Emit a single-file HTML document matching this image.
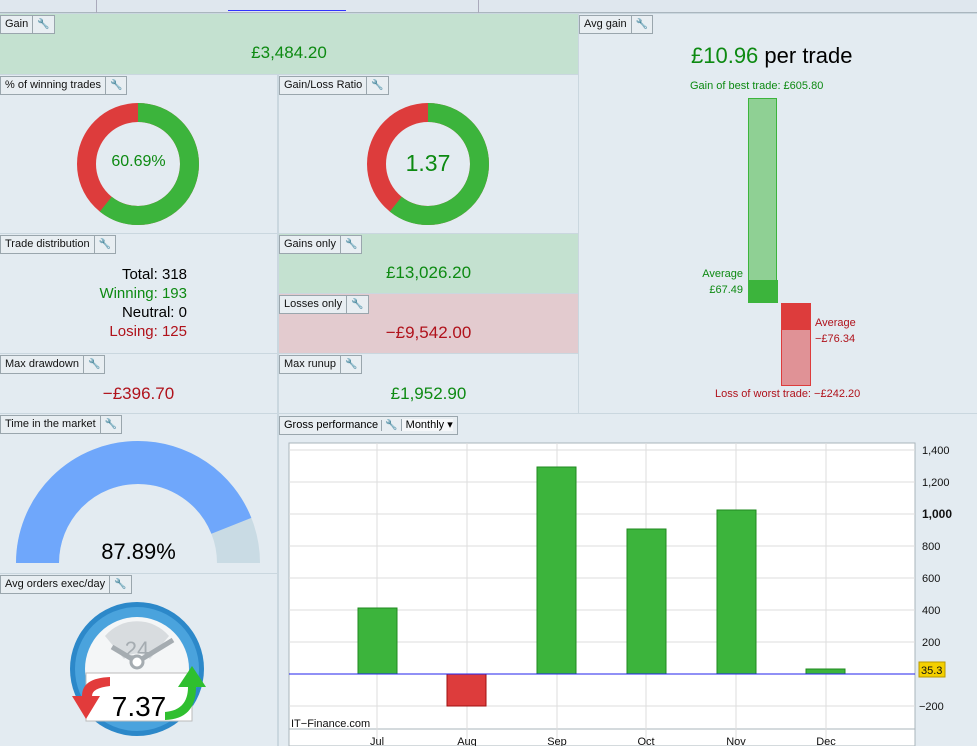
<!DOCTYPE html>
<html><head><meta charset="utf-8"><style>
body{margin:0;width:977px;height:746px;overflow:hidden;background:#cad7df;font-family:"Liberation Sans","DejaVu Sans",sans-serif;position:relative}
.p{position:absolute;background:#e3ebf1;box-sizing:border-box}
.t{position:absolute;left:0;top:1px;border:1px solid #9aa6ad;background:#e8eef2;font-size:11px;height:17px;line-height:17px;padding:0 4px;white-space:nowrap;color:#111}
.t i{display:inline-block;border-left:1px solid #9aa6ad;margin-left:4px;padding-left:4px;font-style:normal;font-size:10px}
.c{position:absolute;text-align:center;width:100%}
.g{color:#0d8a12}.r{color:#b0121b}
</style></head><body>
<div class="p" style="left:0;top:0;width:977px;height:13px;background:#dfe7ee;border-bottom:1px solid #aab6be"></div>
<div class="p" style="left:96px;top:0;width:1px;height:13px;background:#aab"></div>
<div class="p" style="left:478px;top:0;width:1px;height:13px;background:#aab"></div>
<div class="p" style="left:228px;top:10px;width:118px;height:1px;background:#33f"></div>

<div class="p" style="left:0;top:14px;width:578px;height:60px;background:#c4e1d0"><div class="t">Gain<i>🔧</i></div><div class="c g" style="top:29px;font-size:17px">£3,484.20</div></div>

<div class="p" style="left:0;top:75px;width:277px;height:158px"><div class="t">% of winning trades<i>🔧</i></div>
<svg style="position:absolute;left:0;top:0" width="277" height="158"><circle cx="138" cy="89" r="51.5" fill="none" stroke="#dd3c3c" stroke-width="19"/><circle cx="138" cy="89" r="51.5" fill="none" stroke="#3cb43c" stroke-width="19" stroke-dasharray="196.4 400" transform="rotate(-90 138 89)"/></svg>
<div class="c g" style="top:78px;font-size:16px">60.69%</div></div>

<div class="p" style="left:279px;top:75px;width:299px;height:158px"><div class="t">Gain/Loss Ratio<i>🔧</i></div>
<svg style="position:absolute;left:0;top:0" width="299" height="158"><circle cx="149" cy="89" r="51.5" fill="none" stroke="#dd3c3c" stroke-width="19"/><circle cx="149" cy="89" r="51.5" fill="none" stroke="#3cb43c" stroke-width="19" stroke-dasharray="196.4 400" transform="rotate(-90 149 89)"/></svg>
<div class="c g" style="top:75px;font-size:23px;left:0;width:298px">1.37</div></div>

<div class="p" style="left:0;top:234px;width:277px;height:119px"><div class="t">Trade distribution<i>🔧</i></div>
<div style="position:absolute;left:0;width:187px;top:31px;text-align:right;font-size:15px;line-height:19px">
<div>Total: 318</div><div class="g">Winning: 193</div><div>Neutral: 0</div><div class="r">Losing: 125</div></div></div>

<div class="p" style="left:279px;top:234px;width:299px;height:59px;background:#c4e1d0"><div class="t">Gains only<i>🔧</i></div><div class="c g" style="top:29px;font-size:17px">£13,026.20</div></div>
<div class="p" style="left:279px;top:294px;width:299px;height:59px;background:#e3cbcf"><div class="t">Losses only<i>🔧</i></div><div class="c r" style="top:29px;font-size:17px">−£9,542.00</div></div>

<div class="p" style="left:0;top:354px;width:277px;height:59px"><div class="t">Max drawdown<i>🔧</i></div><div class="c r" style="top:30px;font-size:17px">−£396.70</div></div>
<div class="p" style="left:279px;top:354px;width:299px;height:59px"><div class="t">Max runup<i>🔧</i></div><div class="c g" style="top:30px;font-size:17px">£1,952.90</div></div>

<div class="p" style="left:579px;top:14px;width:398px;height:399px"><div class="t">Avg gain<i>🔧</i></div>
<div style="position:absolute;left:112px;top:29px;font-size:22px"><span class="g">£10.96</span> per trade</div>
<div class="g" style="position:absolute;left:111px;top:66px;font-size:11px">Gain of best trade: £605.80</div>
<div style="position:absolute;left:169px;top:84px;width:29px;height:205px;background:#8fd094;border:1px solid #3cb43c;box-sizing:border-box"></div>
<div style="position:absolute;left:169px;top:266px;width:30px;height:23px;background:#3cb43c"></div>
<div class="g" style="position:absolute;left:100px;top:252px;font-size:11px;line-height:16px;text-align:right;width:64px">Average<br>£67.49</div>
<div style="position:absolute;left:202px;top:289px;width:30px;height:83px;background:#e09296;border:1px solid #dd3c3c;box-sizing:border-box"></div>
<div style="position:absolute;left:202px;top:289px;width:30px;height:27px;background:#dd3c3c"></div>
<div class="r" style="position:absolute;left:236px;top:301px;font-size:11px;line-height:16px">Average<br>−£76.34</div>
<div class="r" style="position:absolute;left:136px;top:374px;font-size:11px">Loss of worst trade: −£242.20</div></div>

<div class="p" style="left:0;top:414px;width:277px;height:159px"><div class="t">Time in the market<i>🔧</i></div>
<svg style="position:absolute;left:0;top:0" width="277" height="159"><path d="M37.5 149 A100.5 100.5 0 0 1 238.5 149" fill="none" stroke="#c9dbe4" stroke-width="43"/><path d="M37.5 149 A100.5 100.5 0 0 1 238.5 149" fill="none" stroke="#6fa7fb" stroke-width="43" stroke-dasharray="277.5 400"/></svg>
<div class="c" style="top:125px;font-size:22px;left:0">87.89%</div></div>

<div class="p" style="left:0;top:574px;width:277px;height:172px"><div class="t">Avg orders exec/day<i>🔧</i></div>
<svg style="position:absolute;left:0;top:0" width="277" height="172"><circle cx="137" cy="95" r="67" fill="#2c88c9"/><circle cx="137" cy="95" r="62" fill="#4aa3dd"/><circle cx="137" cy="95" r="52" fill="#f4f6f7"/>
<path d="M105 62 A42 42 0 0 1 169 62 L150 85 A18 18 0 0 0 124 85Z" fill="#d8dcdf"/>
<text x="137" y="83" font-size="22" fill="#a5acb1" text-anchor="middle" font-family="Liberation Sans">24</text>
<line x1="137" y1="88" x2="112" y2="73" stroke="#a5acb1" stroke-width="5"/><line x1="137" y1="88" x2="173" y2="66" stroke="#a5acb1" stroke-width="5"/><circle cx="137" cy="88" r="6" fill="#fff" stroke="#a5acb1" stroke-width="3"/>
<rect x="86" y="99" width="106" height="48" fill="#fff" stroke="#bbb"/>
<path d="M72 122 L100 122 L86 145Z M82 122 Q82 104 110 103 L110 112 Q92 114 92 122Z" fill="#e23b3b"/>
<path d="M178 113 L206 113 L192 92Z M188 113 L196 113 Q196 145 165 146 L165 138 Q188 136 188 113Z" fill="#2fbf2f"/>
<text x="139" y="142" font-size="28" text-anchor="middle" font-family="Liberation Sans">7.37</text></svg></div>

<div class="p" style="left:279px;top:414px;width:698px;height:332px"><div style="position:absolute;left:0;top:2px;border:1px solid #9aa6ad;background:#e8eef2;font-size:11px;height:17px;line-height:17px;padding:0 4px;white-space:nowrap">Gross performance <span style="border-left:1px solid #9aa6ad;padding:0 3px;font-size:10px">🔧</span><span style="border-left:1px solid #9aa6ad;padding-left:4px;background:#f5f7f9">Monthly ▾</span></div></div>

<svg style="position:absolute;left:0;top:0" width="977" height="746" font-family="Liberation Sans" font-size="11">
<rect x="289" y="443" width="626" height="303" fill="#fff" stroke="#aab4bb"/>
<g stroke="#ddd">
<line x1="289" y1="450" x2="915" y2="450"/><line x1="289" y1="482" x2="915" y2="482"/><line x1="289" y1="514" x2="915" y2="514"/><line x1="289" y1="546" x2="915" y2="546"/><line x1="289" y1="578" x2="915" y2="578"/><line x1="289" y1="610" x2="915" y2="610"/><line x1="289" y1="642" x2="915" y2="642"/><line x1="289" y1="706" x2="915" y2="706"/><line x1="289" y1="729" x2="915" y2="729" stroke="#aab4bb"/>
<line x1="377" y1="443" x2="377" y2="746"/><line x1="467" y1="443" x2="467" y2="746"/><line x1="557" y1="443" x2="557" y2="746"/><line x1="646" y1="443" x2="646" y2="746"/><line x1="736" y1="443" x2="736" y2="746"/><line x1="826" y1="443" x2="826" y2="746"/></g>
<g fill="#3cb43c" stroke="#1f8a1f"><rect x="358" y="608" width="39" height="66"/><rect x="537" y="467" width="39" height="207"/><rect x="627" y="529" width="39" height="145"/><rect x="717" y="510" width="39" height="164"/><rect x="806" y="669" width="39" height="5"/></g>
<rect x="447" y="674" width="39" height="32" fill="#dd3c3c" stroke="#a01010"/>
<line x1="289" y1="674" x2="915" y2="674" stroke="#2222ee"/>
<g fill="#111"><text x="922" y="454">1,400</text><text x="922" y="486">1,200</text><text x="922" y="518" font-weight="bold" font-size="12">1,000</text><text x="922" y="550">800</text><text x="922" y="582">600</text><text x="922" y="614">400</text><text x="922" y="646">200</text><text x="919" y="710">−200</text>
<text x="291" y="727">IT−Finance.com</text>
<g text-anchor="middle"><text x="377" y="745">Jul</text><text x="467" y="745">Aug</text><text x="557" y="745">Sep</text><text x="646" y="745">Oct</text><text x="736" y="745">Nov</text><text x="826" y="745">Dec</text></g></g>
<rect x="919" y="662" width="26" height="15" fill="#f5d000" stroke="#b99a00"/><text x="921" y="674" fill="#111">35.3</text>
</svg>
</body></html>
